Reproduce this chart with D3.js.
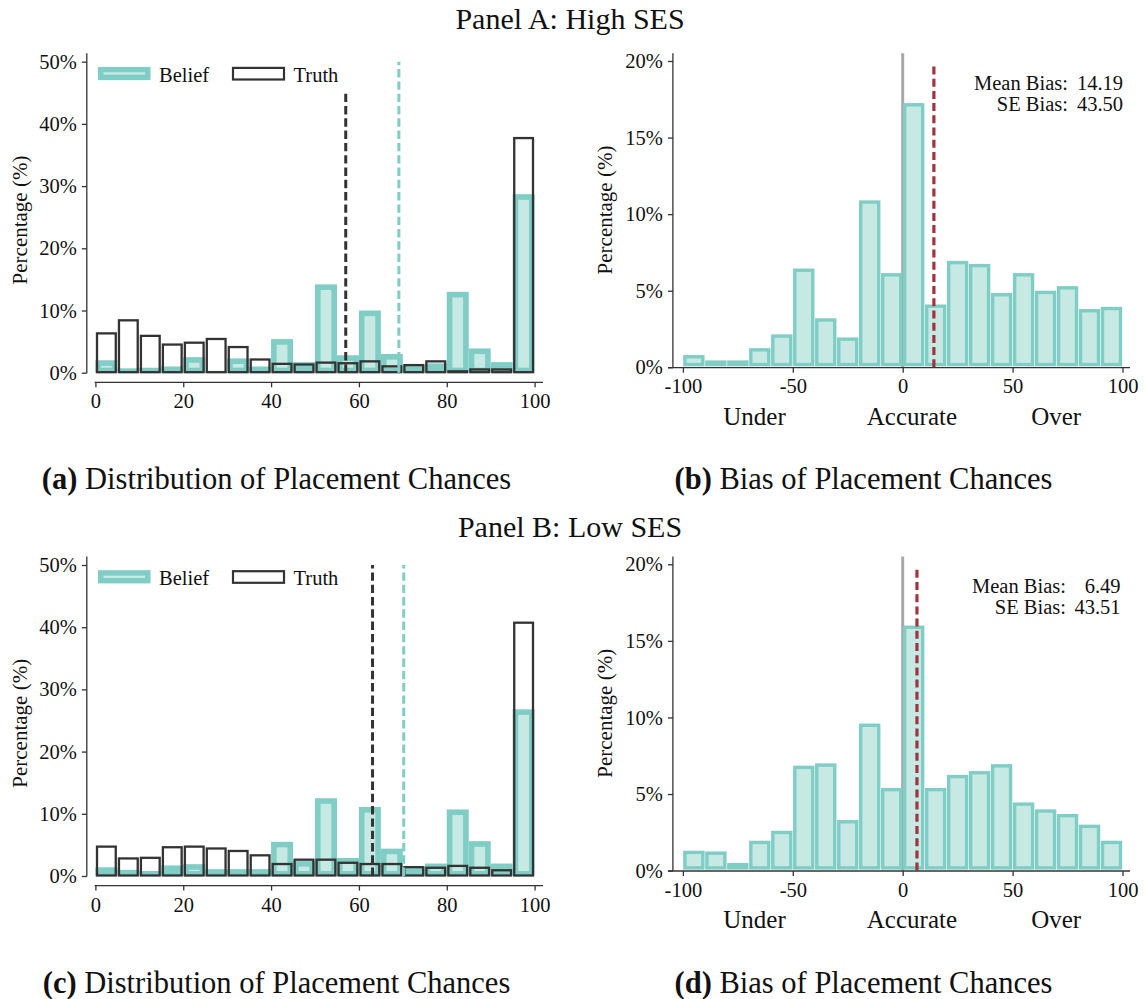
<!DOCTYPE html>
<html><head><meta charset="utf-8">
<script src="https://cdn.jsdelivr.net/npm/d3@7"></script>
<style>
html,body{margin:0;padding:0;background:#fff;}
svg{display:block;font-family:"Liberation Serif","Times New Roman",serif;}
</style></head><body>
<svg id="fig" width="1146" height="999"></svg>
<script>
// Histogram bin edges
const placementEdges = d3.range(0, 101, 5);   // placement chance, 5-point bins
const biasEdges = d3.range(-100, 101, 10);    // belief minus truth, 10-point bins

// Panel A: High SES (percent of respondents per bin)
const beliefHigh = [2.0, 0.7, 0.8, 1.0, 2.5, 0.3, 2.3, 1.0, 5.4, 1.7, 14.2, 2.8, 10.0, 3.0, 1.2, 1.5, 13.0, 3.9, 1.7, 28.7];
const truthHigh  = [6.5, 8.6, 6.1, 4.7, 5.0, 5.6, 4.3, 2.3, 1.6, 1.5, 1.8, 1.7, 2.0, 1.2, 1.4, 2.0, 0.4, 0.7, 0.7, 37.9];
const biasHigh   = [0.8, 0.45, 0.45, 1.25, 2.15, 6.45, 3.2, 1.95, 10.9, 6.15, 17.25, 4.1, 6.95, 6.75, 4.85, 6.15, 5.0, 5.3, 3.8, 3.95];

// Panel B: Low SES
const beliefLow = [1.4, 1.0, 0.8, 1.7, 1.9, 1.1, 1.1, 1.1, 5.5, 2.4, 12.5, 2.9, 11.1, 4.4, 1.5, 2.0, 10.7, 5.6, 2.0, 26.8];
const truthLow  = [4.9, 3.0, 3.1, 4.8, 4.9, 4.6, 4.2, 3.5, 2.1, 2.8, 2.8, 2.3, 2.1, 2.1, 1.6, 1.5, 1.8, 1.5, 1.1, 40.9];
const biasLow   = [1.3, 1.25, 0.5, 1.95, 2.6, 6.85, 7.0, 3.3, 9.6, 5.4, 16.0, 5.4, 6.25, 6.5, 6.95, 4.45, 4.0, 3.7, 3.0, 1.95];

// Means drawn as dashed reference lines, and how high each line reaches (%)
const meanTruth = [57.0, 63.1];
const meanBelief = [69.1, 70.2];
const meanTruthLineTop = [45.4, 50];
const meanBeliefLineTop = [50, 50];
const meanBias = [14.19, 6.49];
const seBias = [43.50, 43.51];
const biasLineTop = 19.8;

// Text and tick labels
const panelTitles = ["Panel A: High SES", "Panel B: Low SES"];
const captionLetters = [["(a)", "(b)"], ["(c)", "(d)"]];
const captionTexts = ["Distribution of Placement Chances", "Bias of Placement Chances"];
const legendLabels = ["Belief", "Truth"];
const placementTicks = [0, 20, 40, 60, 80, 100];
const biasTicks = [-100, -50, 0, 50, 100];
const percentTicksLeft = [0, 10, 20, 30, 40, 50];
const percentTicksRight = [0, 5, 10, 15, 20];
const biasRegionLabels = ["Under", "Accurate", "Over"];

const TEAL = "#7fcdc4", LIGHT = "#c6e9e4", DARK = "#333333", RED = "#a2323e", GREY = "#a8a8a8", INK = "#111111";
const svg = d3.select("#fig");
const fmt2 = d3.format(".2f");

function styleAxis(sel, fs) {
  sel.attr("font-family", null).attr("font-size", null);
  sel.select(".domain").remove();
  sel.selectAll(".tick line").attr("stroke", DARK).attr("stroke-width", 1.3);
  sel.selectAll(".tick text").attr("fill", INK).attr("font-size", fs);
}

function drawPanel(p, belief, truth, bias) {
  const off = p * 503.3;
  const g = svg.append("g");

  g.append("text").attr("x", 570).attr("y", p ? 536.5 : 29.3)
    .attr("text-anchor", "middle").attr("font-size", 30).attr("fill", INK)
    .text(panelTitles[p]);

  // ---------- left: distribution of placement chances ----------
  const x = d3.scaleLinear([0, 100], [95.4, 534.6]);
  const y = d3.scaleLinear([0, 50], [372.7 + off, 61.7 + off]);
  const lg = g.append("g");

  const bBins = belief.map((v, i) => ({ x0: placementEdges[i], x1: placementEdges[i + 1], v }));
  const tBins = truth.map((v, i) => ({ x0: placementEdges[i], x1: placementEdges[i + 1], v }));
  const s = 5.6;

  lg.append("g").selectAll("rect").data(bBins).join("rect")
    .attr("x", d => x(d.x0)).attr("width", d => x(d.x1) - x(d.x0))
    .attr("y", d => y(d.v)).attr("height", d => y(0) - y(d.v))
    .attr("fill", TEAL);
  lg.append("g").selectAll("rect").data(bBins.filter(d => y(0) - y(d.v) > 2 * s - 0.6)).join("rect")
    .attr("x", d => x(d.x0) + s).attr("width", d => x(d.x1) - x(d.x0) - 2 * s)
    .attr("y", d => y(d.v) + s).attr("height", d => Math.max(0.8, y(0) - y(d.v) - 2 * s + 0.6))
    .attr("fill", LIGHT);

  lg.append("g").selectAll("rect").data(tBins).join("rect")
    .attr("x", d => x(d.x0) + 1.6).attr("width", d => x(d.x1) - x(d.x0) - 3.2)
    .attr("y", d => y(d.v) + 1.1).attr("height", d => y(0) - y(d.v) - 1.6)
    .attr("fill", "none").attr("stroke", DARK).attr("stroke-width", 2.3);

  lg.append("line").attr("x1", x(meanTruth[p])).attr("x2", x(meanTruth[p]))
    .attr("y1", y(0)).attr("y2", y(meanTruthLineTop[p]))
    .attr("stroke", DARK).attr("stroke-width", 3).attr("stroke-dasharray", "8.4,3.9");
  lg.append("line").attr("x1", x(meanBelief[p])).attr("x2", x(meanBelief[p]))
    .attr("y1", y(0)).attr("y2", y(meanBeliefLineTop[p]))
    .attr("stroke", TEAL).attr("stroke-width", 3).attr("stroke-dasharray", "8.4,3.9");

  // axes
  const xa = lg.append("g").attr("transform", `translate(0,${382.3 + off})`)
    .call(d3.axisBottom(x).tickValues(placementTicks).tickSize(5).tickPadding(6.6));
  styleAxis(xa, 20.5);
  lg.append("line").attr("x1", 94.6).attr("x2", 543).attr("y1", 382.3 + off).attr("y2", 382.3 + off)
    .attr("stroke", DARK).attr("stroke-width", 1.3);
  const ya = lg.append("g").attr("transform", "translate(86.8,0)")
    .call(d3.axisLeft(y).tickValues(percentTicksLeft).tickFormat(d => d + "%").tickSize(5).tickPadding(5));
  styleAxis(ya, 20.5);
  lg.append("line").attr("x1", 86.8).attr("x2", 86.8).attr("y1", 53.3 + off).attr("y2", y(0) + 0.6)
    .attr("stroke", DARK).attr("stroke-width", 1.3);

  lg.append("text").attr("transform", `translate(26.5,${220 + off}) rotate(-90)`)
    .attr("text-anchor", "middle").attr("font-size", 21).attr("fill", INK).text("Percentage (%)");

  // legend
  const lgY = 66.9 + off;
  lg.append("rect").attr("x", 98).attr("y", lgY).attr("width", 52.5).attr("height", 13.2).attr("fill", TEAL);
  lg.append("rect").attr("x", 103.5).attr("y", lgY + 5.4).attr("width", 41.5).attr("height", 2.4).attr("fill", LIGHT);
  lg.append("text").attr("x", 159).attr("y", lgY + 14.6).attr("font-size", 20.5).attr("fill", INK).text(legendLabels[0]);
  lg.append("rect").attr("x", 233).attr("y", lgY + 1).attr("width", 51).attr("height", 11.6)
    .attr("fill", "none").attr("stroke", DARK).attr("stroke-width", 2.2);
  lg.append("text").attr("x", 293.5).attr("y", lgY + 14.6).attr("font-size", 20.5).attr("fill", INK).text(legendLabels[1]);

  // caption
  const c1 = lg.append("text").attr("x", 276.5).attr("y", 489.3 + off).attr("text-anchor", "middle")
    .attr("font-size", 30.5).attr("fill", INK);
  c1.append("tspan").attr("font-weight", "bold").text(captionLetters[p][0]);
  c1.append("tspan").text(" " + captionTexts[0]);

  // ---------- right: bias of placement chances ----------
  const xr = d3.scaleLinear([-100, 100], [682.9, 1122.5]);
  const yr = d3.scaleLinear([0, 20], [367.3 + off, 61 + off]);
  const rg = g.append("g");

  rg.append("line").attr("x1", xr(0)).attr("x2", xr(0)).attr("y1", yr(0)).attr("y2", 53.3 + off)
    .attr("stroke", GREY).attr("stroke-width", 3);

  const rBins = bias.map((v, i) => ({ x0: biasEdges[i], x1: biasEdges[i + 1], v }));
  const rs = 3.4;
  rg.append("g").selectAll("rect").data(rBins).join("rect")
    .attr("x", d => xr(d.x0) + rs / 2 + 0.3).attr("width", d => xr(d.x1) - xr(d.x0) - rs - 0.6)
    .attr("y", d => yr(d.v) + rs / 2).attr("height", d => Math.max(0, yr(0) - yr(d.v) - rs - 1))
    .attr("fill", LIGHT).attr("stroke", TEAL).attr("stroke-width", rs);

  rg.append("line").attr("x1", xr(meanBias[p])).attr("x2", xr(meanBias[p]))
    .attr("y1", yr(0)).attr("y2", yr(biasLineTop))
    .attr("stroke", RED).attr("stroke-width", 3.2).attr("stroke-dasharray", "8,4.2");

  const xra = rg.append("g").attr("transform", `translate(0,${367.7 + off})`)
    .call(d3.axisBottom(xr).tickValues(biasTicks).tickFormat(d => String(d)).tickSize(5).tickPadding(6.2));
  styleAxis(xra, 20.5);
  rg.append("line").attr("x1", 668).attr("x2", 1130).attr("y1", 367.7 + off).attr("y2", 367.7 + off)
    .attr("stroke", DARK).attr("stroke-width", 1.3);
  const yra = rg.append("g").attr("transform", "translate(672.9,0)")
    .call(d3.axisLeft(yr).tickValues(percentTicksRight).tickFormat(d => d + "%").tickSize(5).tickPadding(5));
  styleAxis(yra, 20.5);
  rg.append("line").attr("x1", 672.9).attr("x2", 672.9).attr("y1", 53.3 + off).attr("y2", 367.7 + off)
    .attr("stroke", DARK).attr("stroke-width", 1.3);

  rg.append("text").attr("transform", `translate(611.5,${210 + off}) rotate(-90)`)
    .attr("text-anchor", "middle").attr("font-size", 21).attr("fill", INK).text("Percentage (%)");

  const regionPos = [-67.4, 4.2, 69.8];
  rg.selectAll("text.region").data(biasRegionLabels).join("text").attr("class", "region")
    .attr("x", (d, i) => xr(regionPos[i])).attr("y", 425 + off).attr("text-anchor", "middle")
    .attr("font-size", 25).attr("fill", INK).text(d => d);

  // mean / SE annotation
  const statLabels = ["Mean Bias:", "SE Bias:"];
  const statValues = [meanBias[p], seBias[p]];
  const colonX = 1068 - (p ? 2 : 0), rightX = 1123 - (p ? 2.5 : 0);
  statLabels.forEach((t, i) => {
    rg.append("text").attr("x", colonX).attr("y", 90 + off + i * 20.5).attr("text-anchor", "end")
      .attr("font-size", 20.5).attr("fill", INK).text(t);
    rg.append("text").attr("x", rightX).attr("y", 90 + off + i * 20.5).attr("text-anchor", "end")
      .attr("font-size", 20.5).attr("fill", INK).text(fmt2(statValues[i]));
  });

  const c2 = rg.append("text").attr("x", 863.5).attr("y", 489.3 + off).attr("text-anchor", "middle")
    .attr("font-size", 30.5).attr("fill", INK);
  c2.append("tspan").attr("font-weight", "bold").text(captionLetters[p][1]);
  c2.append("tspan").text(" " + captionTexts[1]);
}

drawPanel(0, beliefHigh, truthHigh, biasHigh);
drawPanel(1, beliefLow, truthLow, biasLow);
</script>
</body></html>
